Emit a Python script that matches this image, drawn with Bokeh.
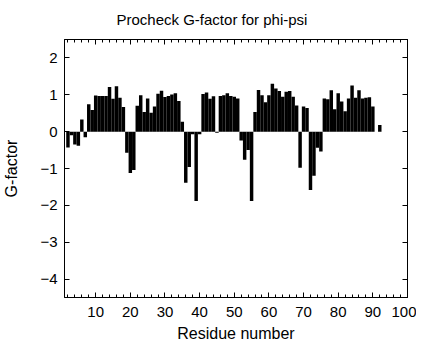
from bokeh.plotting import figure
from bokeh.models import FixedTicker, LinearAxis, Range1d, CustomLabelingPolicy
from bokeh.embed import file_html
from bokeh.resources import INLINE

# ---- data ----
residues = list(range(1, 93))
gfactor = [
    0.00, -0.43, -0.10, -0.35, -0.38, 0.33, -0.15, 0.74, 0.59, 0.98,
    0.97, 0.97, 0.97, 1.21, 0.89, 1.23, 0.92, 0.67, -0.57, -1.12,
    -1.04, 0.70, 0.99, 0.53, 0.90, 0.51, 0.68, 1.03, 1.11, 0.94,
    0.97, 1.01, 1.04, 0.83, 0.27, -1.39, -0.96, -0.07, -1.88, -0.07,
    1.02, 1.06, 0.89, 0.96, -0.03, 0.97, 0.99, 1.04, 0.97, 0.95,
    0.90, -0.24, -0.76, -0.50, -1.88, 0.53, 1.13, 0.99, 0.80, 0.99,
    1.30, 1.17, 1.10, 0.95, 1.08, 1.10, 0.95, 0.71, -0.98, 0.68,
    0.64, -1.58, -1.20, -0.44, -0.54, 0.90, 0.88, 1.12, 0.61, 1.04,
    0.82, 0.55, 0.90, 1.25, 0.92, 1.12, 0.90, 0.92, 0.93, 0.68,
    0.00, 0.18,
]
x_major_ticks = [10, 20, 30, 40, 50, 60, 70, 80, 90, 100]
x_minor_ticks = list(range(2, 100, 2))
y_major_ticks = [-4, -3, -2, -1, 0, 1, 2]

title_text = "Procheck G-factor for phi-psi"
x_label = "Residue number"
y_label = "G-factor"

FONT = "Liberation Sans"

p = figure(
    width=416, height=344,
    x_range=Range1d(1, 100), y_range=Range1d(-4.5, 2.5),
    output_backend="svg", toolbar_location=None,
    min_border_left=55, min_border_right=9, min_border_top=0, min_border_bottom=0,
    title=title_text,
)
p.background_fill_color = "white"
p.border_fill_color = "white"
p.outline_line_color = "black"
p.outline_line_width = 1
p.grid.visible = False

p.title.text_font = FONT
p.title.text_font_size = "15px"
p.title.text_font_style = "normal"
p.title.text_color = "black"
p.title.align = "left"
p.title.offset = 52
p.title.standoff = 16

p.vbar(x=residues, top=gfactor, bottom=0, width=1.0,
       fill_color="black", line_color=None)

hide_labels = CustomLabelingPolicy(code="""
try { for (let i = 0; i < indices.size; i++) { indices.unset(i) } } catch (e) {}
return indices
""")

def style_axis(ax, ticker, minor_in, labels=True):
    ax.ticker = ticker
    ax.axis_line_color = "black"
    ax.major_tick_line_color = "black"
    ax.minor_tick_line_color = "black"
    ax.major_tick_in = 5
    ax.major_tick_out = 0
    ax.minor_tick_in = minor_in
    ax.minor_tick_out = 0
    if labels:
        ax.major_label_text_font = FONT
        ax.major_label_text_font_size = "15px"
        ax.major_label_text_color = "black"
        ax.axis_label_text_font = FONT
        ax.axis_label_text_font_size = "16px"
        ax.axis_label_text_font_style = "normal"
        ax.axis_label_text_color = "black"
    else:
        ax.major_label_policy = hide_labels
        ax.major_label_text_font_size = "1px"
        ax.major_label_standoff = 0

xt = FixedTicker(ticks=x_major_ticks, minor_ticks=x_minor_ticks)
yt = FixedTicker(ticks=y_major_ticks, minor_ticks=[])

xa = p.xaxis[0]
style_axis(xa, xt, 3)
xa.axis_label = x_label
xa.major_label_standoff = 9
xa.axis_label_standoff = 5

ya = p.yaxis[0]
style_axis(ya, yt, 0)
ya.axis_label = y_label
ya.major_label_standoff = 7
ya.axis_label_standoff = 17

top_ax = LinearAxis()
style_axis(top_ax, FixedTicker(ticks=x_major_ticks, minor_ticks=x_minor_ticks), 3, labels=False)
p.add_layout(top_ax, "above")

right_ax = LinearAxis()
style_axis(right_ax, FixedTicker(ticks=y_major_ticks, minor_ticks=[]), 0, labels=False)
p.add_layout(right_ax, "right")

open("out.html", "w").write(file_html(p, INLINE))
